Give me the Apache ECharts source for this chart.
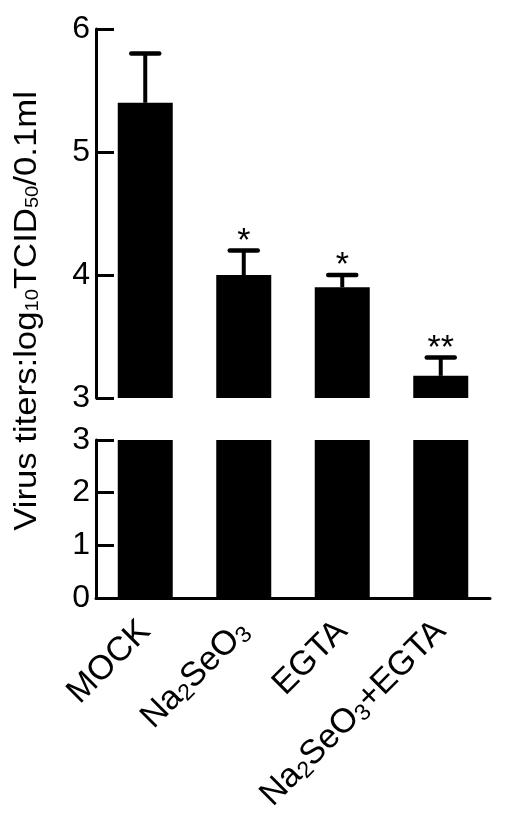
<!DOCTYPE html>
<html>
<head>
    <meta charset="utf-8"/>
    <style>
        html, body {
            height: 100%;
            margin: 0;
            padding: 0;
            background: #fff;
        }

        .container {
            width: 507px;
            height: 830px;
        }
    </style>
</head>
<body>
<div id="main" class="container"></div>
<script src="https://cdn.jsdelivr.net/npm/echarts@6/dist/echarts.min.js"></script>
<script type="text/javascript">
// 数据
var categories = ['MOCK', 'Na2SeO3', 'EGTA', 'Na2SeO3+EGTA'];
var meanValues = [5.4, 4.0, 3.9, 3.18];
var errorTops = [5.8, 4.2, 4.0, 3.33];
var sigMarks = ['', '*', '*', '**'];
var topTicks = [3, 4, 5, 6];
var bottomTicks = [0, 1, 2, 3];

var font = 'Liberation Sans';
var black = '#000';

var myChart = echarts.init(document.getElementById('main'));

function subLabel(name) {
    // Na2SeO3 -> Na{sub|2}SeO{sub|3}
    return name.replace(/(\D)(\d)/g, '$1{sub|$2}');
}

var gridLeft = 96, gridRight = 17;

// y轴刻度样式（上下两段共用）
function yAxisFor(gridIndex, ticks) {
    return {
        gridIndex: gridIndex, type: 'value',
        min: ticks[0], max: ticks[ticks.length - 1], interval: 1,
        splitLine: {show: false},
        axisLine: {show: true, lineStyle: {color: black, width: 3}},
        axisTick: {show: true, inside: true, length: 18, lineStyle: {color: black, width: 3}},
        axisLabel: {color: black, fontFamily: font, fontSize: 32, margin: 6}
    };
}

var option = {
    animation: false,
    backgroundColor: '#fff',
    grid: [
        {left: gridLeft, right: gridRight, top: 29, height: 369},
        {left: gridLeft, right: gridRight, top: 440, height: 158}
    ],
    xAxis: [
        {
            gridIndex: 0, type: 'category', data: categories,
            axisLine: {show: false}, axisTick: {show: false}, axisLabel: {show: false}
        },
        {
            gridIndex: 1, type: 'category', data: categories,
            axisLine: {show: true, lineStyle: {color: black, width: 3}},
            axisTick: {show: false},
            axisLabel: {
                rotate: 45,
                margin: 28,
                interval: 0,
                color: black,
                fontFamily: font,
                fontSize: 34,
                formatter: function (v) { return subLabel(v); },
                rich: {
                    sub: {fontSize: 23, fontFamily: font, color: black, verticalAlign: 'bottom', padding: [14, 0, 0, 0]}
                }
            }
        }
    ],
    yAxis: [yAxisFor(0, topTicks), yAxisFor(1, bottomTicks)],
    graphic: [
        {
            type: 'text',
            rotation: Math.PI / 2,
            x: 27, y: 311,
            scaleX: 1.12,
            style: {
                text: 'Virus titers:log{sub|10}TCID{sub|50}/0.1ml',
                fontFamily: font,
                fontSize: 31,
                fill: black,
                align: 'center',
                verticalAlign: 'middle',
                rich: {
                    sub: {fontSize: 18, fontFamily: font, fill: black, verticalAlign: 'bottom', padding: [12, 0, 0, 0]}
                }
            }
        }
    ],
    series: [
        {
            type: 'bar', xAxisIndex: 0, yAxisIndex: 0,
            data: meanValues, barWidth: 55,
            itemStyle: {color: black}
        },
        {
            type: 'bar', xAxisIndex: 1, yAxisIndex: 1,
            data: meanValues, barWidth: 55,
            itemStyle: {color: black}
        },
        {
            type: 'custom', xAxisIndex: 0, yAxisIndex: 0,
            data: categories.map(function (c, i) { return [i, meanValues[i], errorTops[i]]; }),
            renderItem: function (params, api) {
                var base = api.coord([api.value(0), api.value(1)]);
                var top = api.coord([api.value(0), api.value(2)]);
                var half = 14;
                var st = {stroke: black, lineWidth: 4.5, lineCap: 'round'};
                var children = [
                    {type: 'line', shape: {x1: base[0], y1: base[1], x2: top[0], y2: top[1]}, style: {stroke: black, lineWidth: 4}},
                    {type: 'line', shape: {x1: top[0] - half, y1: top[1], x2: top[0] + half, y2: top[1]}, style: st}
                ];
                var mark = sigMarks[params.dataIndex];
                if (mark) {
                    children.push({
                        type: 'text',
                        x: top[0], y: top[1] + 8,
                        style: {
                            text: mark, fontFamily: font, fontSize: 34, fill: black,
                            align: 'center', verticalAlign: 'bottom'
                        }
                    });
                }
                return {type: 'group', children: children};
            }
        }
    ]
};

myChart.setOption(option);
</script>
</body>
</html>
